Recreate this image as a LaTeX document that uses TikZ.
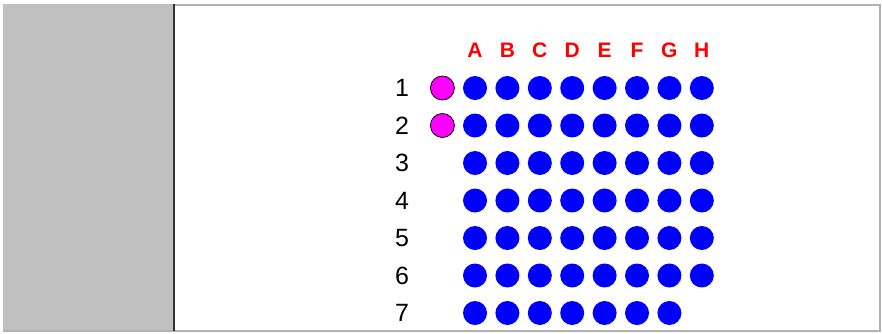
\documentclass[tikz,border=0pt]{standalone}
\usepackage{fontspec}
\setmainfont{Liberation Sans}
\usetikzlibrary{positioning}
\definecolor{PanelGray}{rgb}{0.753, 0.753, 0.753}
\definecolor{EdgeGray}{rgb}{0.70, 0.70, 0.70}
\definecolor{DotBlue}{rgb}{0, 0, 1}
\definecolor{PinMagenta}{rgb}{1, 0, 1}
\definecolor{LabelRed}{rgb}{1, 0, 0}

\begin{document}
\begin{tikzpicture}[
    x=1pt, y=-1pt,
    dot/.style={circle, fill=DotBlue, inner sep=0pt, minimum size=24pt},
    pin/.style={circle, draw=black, thick, fill=PinMagenta, inner sep=0pt, minimum size=24pt},
    collabel/.style={text=LabelRed, font=\fontsize{21}{21}\selectfont\bfseries},
    rowlabel/.style={font=\fontsize{25}{25}\selectfont},
]
\useasboundingbox (0,0) rectangle (882,333);
\fill[white] (0,0) rectangle (882,333);

% panels
\fill[PanelGray] (3,4) rectangle (174,331);
\draw[EdgeGray, line width=2pt] (174,5) -- (880,5) -- (880,331) -- (3,331);
\draw[black!80, line width=2pt] (174,4) -- (174,331);

% column letters
\foreach \c [count=\i] in {A,B,C,D,E,F,G,H}
    \node[collabel] (col\c) at ({475+32.4*(\i-1)},50) {\c};

% row numbers and dots
\foreach \r in {1,...,7} {
    \node[rowlabel] (row\r) at (402,{88+37.5*(\r-1)}) {\r};
}
\foreach \c [count=\i] in {A,B,C,D,E,F,G,H}
    \foreach \r in {1,...,6}
        \node[dot] (d\c\r) at ({475+32.4*(\i-1)},{88+37.5*(\r-1)}) {};
\foreach \c [count=\i] in {A,B,C,D,E,F,G}
    \node[dot] (d\c7) at ({475+32.4*(\i-1)},313) {};

% pins on rows 1 and 2
\node[pin, left=8pt of dA1] (pin1) {};
\node[pin, left=8pt of dA2] (pin2) {};

\end{tikzpicture}
\end{document}
